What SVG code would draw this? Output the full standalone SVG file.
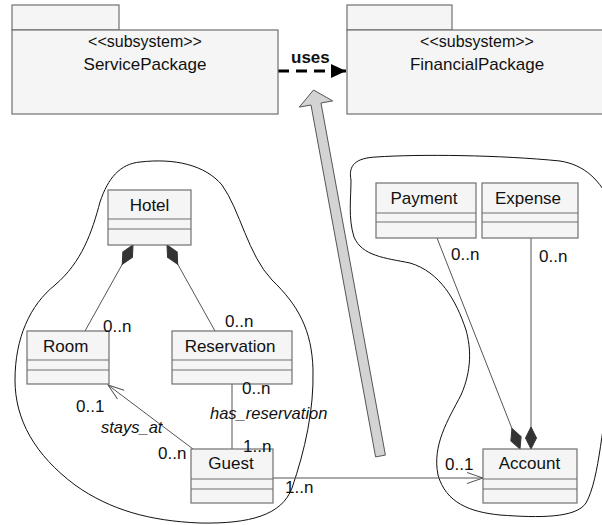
<svg xmlns="http://www.w3.org/2000/svg" width="602" height="525" viewBox="0 0 602 525">
  <style>
    .box { fill: #f5f5f5; stroke: #707070; stroke-width: 1.2; }
    .sep { stroke: #707070; stroke-width: 1.2; }
    .blob { fill: none; stroke: #111; stroke-width: 1; }
    .t { font-family: "Liberation Sans", Arial, sans-serif; font-size: 17px; fill: #111; }
    .st { font-size: 16px; }
    .it { font-style: italic; font-size: 16.5px; }
    .b { font-weight: bold; }
    .mid { text-anchor: middle; }
    .assoc { fill: none; stroke: #555; stroke-width: 1; }
  </style>
  <defs>
    <marker id="diamond" viewBox="-23 -7 24 14" refX="0" refY="0" markerWidth="24" markerHeight="14" markerUnits="userSpaceOnUse" orient="auto">
      <path d="M0,0 L-11,-5.5 L-22,0 L-11,5.5 Z" fill="#333" stroke="#333" stroke-width="1"/>
    </marker>
    <marker id="open" viewBox="-18 -8 20 16" refX="0" refY="0" markerWidth="20" markerHeight="16" markerUnits="userSpaceOnUse" orient="auto">
      <path d="M-16,-5.5 L0,0 L-16,5.5" fill="none" stroke="#555" stroke-width="1"/>
    </marker>
    <marker id="solid" viewBox="-16 -8 17 16" refX="0" refY="0" markerWidth="17" markerHeight="16" markerUnits="userSpaceOnUse" orient="auto">
      <path d="M-15,-7 L0,0 L-15,7 Z" fill="#000"/>
    </marker>
  </defs>

  <!-- free-hand groupings -->
  <g id="groupings">
    <path class="blob" d="M140,162 C175,158 205,165 222,185 C240,210 248,255 272,280 C298,305 312,330 313,370 C314,410 305,450 292,488 C282,515 250,524 200,523 C150,521 110,510 75,485 C35,455 15,420 15,380 C15,338 30,305 55,285 C82,262 92,232 100,202 C108,178 120,164 140,162 Z"/>
    <path class="blob" d="M351,180 C348,165 356,158 376,157 C420,154 500,155 560,161 C585,165 600,180 612,205 L612,375 C602,420 600,478 586,503 C576,518 540,518 500,515 C470,512 446,503 438,475 C432,445 448,420 461,395 C472,370 471,348 466,330 C456,300 440,272 410,263 C385,258 362,256 354,237 C348,218 351,198 351,180 Z"/>
  </g>

  <!-- connectors -->
  <g id="connectors">
    <path class="assoc" d="M85,331 L133,245" marker-end="url(#diamond)"/>
    <path class="assoc" d="M215,331 L167,245" marker-end="url(#diamond)"/>
    <path class="assoc" d="M193,449 L108,385" marker-end="url(#open)"/>
    <path class="assoc" d="M232,384 L232,449"/>
    <path class="assoc" d="M273,478 L483,478" marker-end="url(#open)"/>
    <path class="assoc" d="M437,238 L520,449" marker-end="url(#diamond)"/>
    <path class="assoc" d="M531,238 L531,449" marker-end="url(#diamond)"/>
    <path d="M278,71 L332,71" fill="none" stroke="#000" stroke-width="3" stroke-dasharray="11 7"/>
    <path d="M332,71 L346,71" fill="none" stroke="#000" stroke-width="3" marker-end="url(#solid)"/>
    <polygon points="375.6,456.9 385.4,455.1 321,103 332.7,100.9 313.5,90 299.3,107.1 311,105" fill="#d3d3d3" stroke="#555" stroke-width="1"/>
  </g>

  <!-- packages -->
  <g id="ServicePackage">
    <rect class="box" x="12" y="5" width="107" height="25"/>
    <rect class="box" x="12" y="30" width="266" height="84"/>
    <text class="t st mid" x="145" y="47">&lt;&lt;subsystem&gt;&gt;</text>
    <text class="t mid" x="145" y="70">ServicePackage</text>
  </g>
  <g id="FinancialPackage">
    <rect class="box" x="347" y="5" width="105" height="25"/>
    <rect class="box" x="347" y="30" width="266" height="84"/>
    <text class="t st mid" x="477" y="47">&lt;&lt;subsystem&gt;&gt;</text>
    <text class="t mid" x="477" y="70">FinancialPackage</text>
  </g>

  <!-- classes -->
  <g id="Hotel">
    <rect class="box" x="108" y="190" width="83" height="55"/>
    <line class="sep" x1="108" y1="219" x2="191" y2="219"/>
    <line class="sep" x1="108" y1="229" x2="191" y2="229"/>
    <text class="t mid" x="149.5" y="211">Hotel</text>
  </g>
  <g id="Room">
    <rect class="box" x="27" y="331" width="82" height="53"/>
    <line class="sep" x1="27" y1="360" x2="109" y2="360"/>
    <line class="sep" x1="27" y1="370" x2="109" y2="370"/>
    <text class="t" x="43" y="352">Room</text>
  </g>
  <g id="Reservation">
    <rect class="box" x="172" y="331" width="120" height="53"/>
    <line class="sep" x1="172" y1="360" x2="292" y2="360"/>
    <line class="sep" x1="172" y1="370" x2="292" y2="370"/>
    <text class="t mid" x="230" y="352">Reservation</text>
  </g>
  <g id="Guest">
    <rect class="box" x="191" y="449" width="82" height="54"/>
    <line class="sep" x1="191" y1="479" x2="273" y2="479"/>
    <line class="sep" x1="191" y1="489" x2="273" y2="489"/>
    <text class="t mid" x="231" y="469">Guest</text>
  </g>
  <g id="Payment">
    <rect class="box" x="376" y="183" width="100" height="55"/>
    <line class="sep" x1="376" y1="213" x2="476" y2="213"/>
    <line class="sep" x1="376" y1="222" x2="476" y2="222"/>
    <text class="t mid" x="424" y="204">Payment</text>
  </g>
  <g id="Expense">
    <rect class="box" x="482" y="183" width="96" height="55"/>
    <line class="sep" x1="482" y1="213" x2="578" y2="213"/>
    <line class="sep" x1="482" y1="222" x2="578" y2="222"/>
    <text class="t mid" x="528" y="204">Expense</text>
  </g>
  <g id="Account">
    <rect class="box" x="483" y="449" width="94" height="54"/>
    <line class="sep" x1="483" y1="479" x2="577" y2="479"/>
    <line class="sep" x1="483" y1="489" x2="577" y2="489"/>
    <text class="t mid" x="529.5" y="469">Account</text>
  </g>

  <!-- connector labels -->
  <g id="labels">
    <text class="t b" x="291" y="63">uses</text>
    <text class="t" x="103" y="332">0..n</text>
    <text class="t" x="225" y="327">0..n</text>
    <text class="t" x="242" y="394">0..n</text>
    <text class="t it" x="210" y="419">has_reservation</text>
    <text class="t" x="76" y="412">0..1</text>
    <text class="t it" x="101" y="433">stays_at</text>
    <text class="t" x="158" y="459">0..n</text>
    <text class="t" x="243" y="452">1..n</text>
    <text class="t" x="285" y="493">1..n</text>
    <text class="t" x="445" y="470">0..1</text>
    <text class="t" x="451" y="260">0..n</text>
    <text class="t" x="539" y="262">0..n</text>
  </g>
</svg>
